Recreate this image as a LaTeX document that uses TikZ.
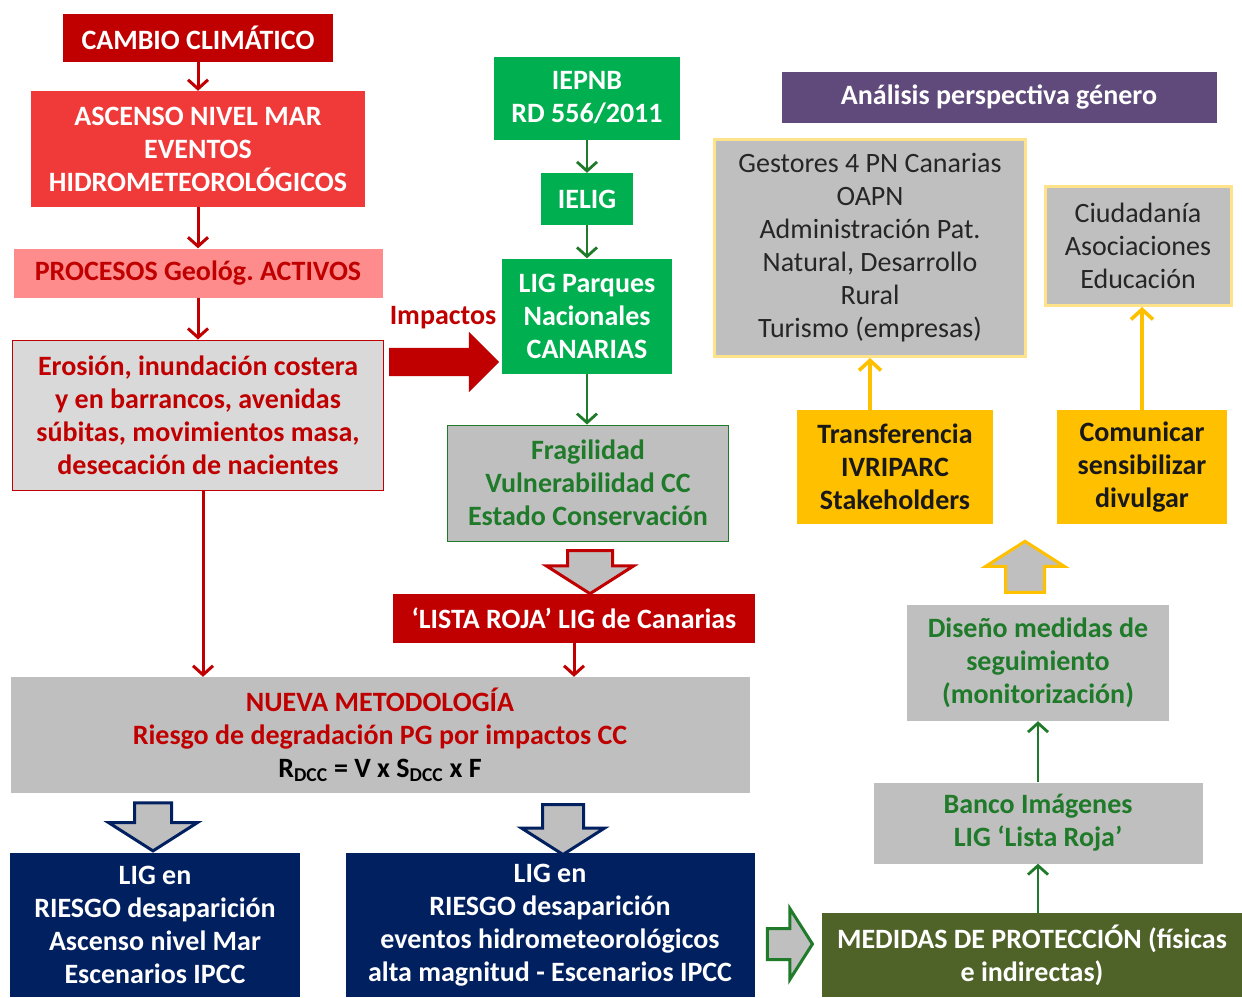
\documentclass[tikz,border=0pt]{standalone}
\usepackage{fontspec}
\setmainfont{Carlito}
\usetikzlibrary{arrows.meta,shapes.arrows,calc}
\definecolor{dkred}{HTML}{C00000}
\definecolor{midred}{HTML}{F03A3A}
\definecolor{pinkred}{HTML}{FF8C8C}
\definecolor{lgreen}{HTML}{00B050}
\definecolor{dgreen}{HTML}{1F7A2A}
\definecolor{boxgray}{HTML}{BFBFBF}
\definecolor{lgray}{HTML}{D9D9D9}
\definecolor{navyblue}{HTML}{002060}
\definecolor{olivegreen}{HTML}{4F6228}
\definecolor{goldbox}{HTML}{FFC000}
\definecolor{goldline}{HTML}{FFE38A}
\definecolor{purplebox}{HTML}{604A7B}
\frenchspacing
\tikzset{
  box/.style={rectangle,align=center,inner sep=0pt,font=\bfseries\fontsize{28}{33}\selectfont},
  plainbox/.style={box,font=\fontsize{28}{33}\selectfont,text=black!85},
  rflow/.style={-{Straight Barb[length=9pt,width=20pt]},dkred,line width=3pt},
  gflow/.style={-{Straight Barb[length=9pt,width=20pt]},dgreen,line width=2.8pt},
  yflow/.style={-{Straight Barb[length=10pt,width=22pt]},goldbox,line width=3.6pt},
  holl/.style={single arrow,fill=boxgray,line width=3pt,inner xsep=0pt,single arrow tip angle=115},
}
\begin{document}
\begin{tikzpicture}[x=1pt,y=-1pt]
  \useasboundingbox (0,0) rectangle (1242,997);
  \fill[white] (0,0) rectangle (1242,997);

  % left column: climate drivers
  \node[box,fill=dkred,text=white,minimum width=270,minimum height=48] (cambio) at (198,38) {CAMBIO CLIMÁTICO};
  \node[box,fill=midred,text=white,minimum width=334,minimum height=116] (ascenso) at (198,149) {ASCENSO NIVEL MAR\\EVENTOS\\HIDROMETEOROLÓGICOS};
  \node[box,fill=pinkred,text=dkred,minimum width=369,minimum height=49] (procesos) at (198,273) {PROCESOS Geológ. ACTIVOS};
  \node[box,fill=lgray,draw=dkred,line width=1pt,text=dkred,minimum width=371,minimum height=150] (erosion) at (198,415) {Erosión, inundación costera\\y en barrancos, avenidas\\súbitas, movimientos masa,\\desecación de nacientes};

  % centre column: inventories
  \node[box,fill=lgreen,text=white,minimum width=186,minimum height=83] (iepnb) at (587,98) {IEPNB\\RD 556/2011};
  \node[box,fill=lgreen,text=white,minimum width=92,minimum height=52] (ielig) at (587,199) {IELIG};
  \node[box,fill=lgreen,text=white,minimum width=170,minimum height=115] (ligpn) at (587,316) {LIG Parques\\Nacionales\\CANARIAS};
  \node[box,fill=boxgray,draw=dgreen,line width=1pt,text=dgreen,minimum width=281,minimum height=116] (fragil) at (588,483) {Fragilidad\\Vulnerabilidad CC\\Estado Conservación};
  \node[box,fill=dkred,text=white,minimum width=362,minimum height=49] (lista) at (574,618) {‘LISTA ROJA’ LIG de Canarias};
  \node[box,text=dkred] (impact) at (443,318) {Impactos};

  % methodology and results
  \node[box,fill=boxgray,text=dkred,minimum width=739,minimum height=116] (nueva) at (380,735) {NUEVA METODOLOGÍA\\Riesgo de degradación PG por impactos CC\\{\color{black}R\textsubscript{DCC} = V x S\textsubscript{DCC} x F}};
  \node[box,fill=navyblue,text=white,minimum width=290,minimum height=144] (riesgoA) at (155,925) {LIG en\\RIESGO desaparición\\Ascenso nivel Mar\\Escenarios IPCC};
  \node[box,fill=navyblue,text=white,minimum width=409,minimum height=144] (riesgoB) at (550,925) {LIG en\\RIESGO desaparición\\eventos hidrometeorológicos\\alta magnitud - Escenarios IPCC};

  % right column: measures and transfer
  \node[box,fill=olivegreen,text=white,minimum width=420,minimum height=84] (medidas) at (1032,955) {MEDIDAS DE PROTECCIÓN (físicas\\e indirectas)};
  \node[box,fill=boxgray,text=dgreen,minimum width=329,minimum height=81] (banco) at (1038,823) {Banco Imágenes\\LIG ‘Lista Roja’};
  \node[box,fill=boxgray,text=dgreen,minimum width=262,minimum height=116] (diseno) at (1038,663) {Diseño medidas de\\seguimiento\\(monitorización)};
  \node[box,fill=goldbox,text=black!90,minimum width=196,minimum height=114] (transf) at (895,467) {Transferencia\\IVRIPARC\\Stakeholders};
  \node[box,fill=goldbox,text=black!90,minimum width=170,minimum height=114] (comun) at (1142,467) {Comunicar\\sensibilizar\\divulgar};
  \node[plainbox,fill=boxgray,draw=goldline,line width=3pt,minimum width=311,minimum height=217] (gestores) at (870,248) {Gestores 4 PN Canarias\\OAPN\\Administración Pat.\\Natural, Desarrollo\\Rural\\Turismo (empresas)};
  \node[plainbox,fill=boxgray,draw=goldline,line width=3pt,minimum width=186,minimum height=119] (ciudad) at (1138,246) {Ciudadanía\\Asociaciones\\Educación};
  \node[box,fill=purplebox,text=white,minimum width=435,minimum height=51] (genero) at (999,97) {Análisis perspectiva género};

  % thin connectors
  \draw[rflow] (cambio) -- (ascenso);
  \draw[rflow] (ascenso) -- (procesos);
  \draw[rflow] (procesos) -- (erosion);
  \draw[rflow] ([xshift=5pt]erosion.south) -- ([xshift=5pt]erosion.south |- nueva.north);
  \draw[rflow] (lista.south) -- (lista.south |- nueva.north);
  \draw[gflow] (iepnb) -- (ielig);
  \draw[gflow] (ielig) -- (ligpn);
  \draw[gflow] (ligpn) -- (ligpn.south |- fragil.north);
  \draw[gflow] (banco.south |- medidas.north) -- (banco.south);
  \draw[gflow] (banco) -- (diseno);
  \draw[yflow] (gestores.south |- transf.north) -- (gestores.south);
  \draw[yflow] (comun.north) -- (comun.north |- ciudad.south);

  % block arrows
  \node[single arrow,fill=dkred,inner xsep=0pt,inner ysep=14pt,single arrow tip angle=90,single arrow head extend=16pt,minimum height=110pt,minimum width=60pt] (impArrow) at (437,362) {};
  \node[holl,draw=dkred,rotate=-90,inner ysep=21pt,single arrow head extend=21pt,minimum height=43pt,minimum width=85pt] (hollRed) at (590,565) {};
  \node[holl,draw=navyblue,rotate=-90,inner ysep=17pt,single arrow head extend=26pt,minimum height=48pt,minimum width=87pt] (hollA) at (153,821) {};
  \node[holl,draw=navyblue,rotate=-90,inner ysep=19pt,single arrow head extend=21pt,minimum height=50pt,minimum width=81pt] (hollB) at (563,823) {};
  \node[holl,draw=dgreen,inner ysep=14pt,single arrow head extend=20pt,minimum height=45pt,minimum width=68pt] (hollG) at (785,944) {};
  \node[holl,draw=goldbox,rotate=90,inner ysep=18pt,single arrow head extend=20pt,minimum height=51pt,minimum width=76pt] (hollY) at (1025,573) {};
\end{tikzpicture}
\end{document}
